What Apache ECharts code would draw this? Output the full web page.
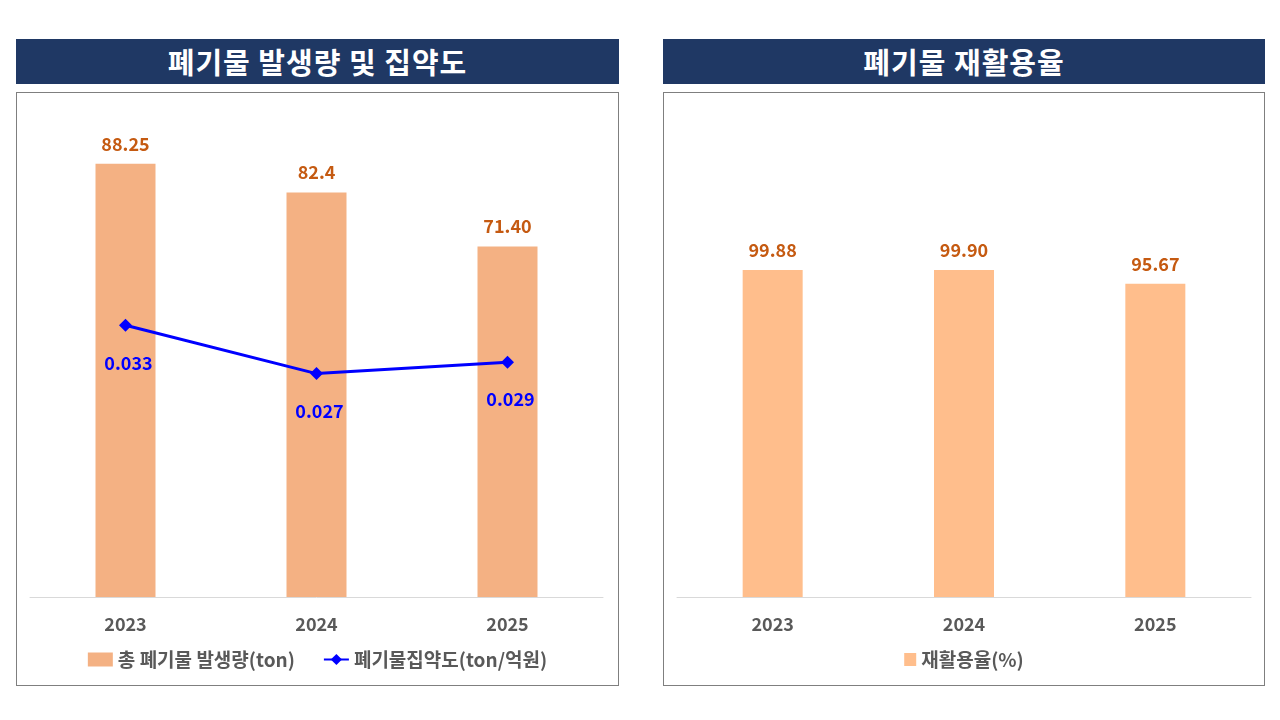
<!DOCTYPE html>
<html>
<head>
<meta charset="utf-8">
<script src="https://cdn.jsdelivr.net/npm/echarts@6/dist/echarts.min.js"></script>
<style>
  body { margin: 0; width: 1280px; height: 720px; background: #fff; position: relative; font-family: "Noto Sans CJK KR", sans-serif; }
  .head { position: absolute; top: 39px; height: 45px; background: #1F3864; color: #fff; font-weight: bold; font-size: 29px; line-height: 45px; text-align: center; letter-spacing: 1px; }
  .box { position: absolute; top: 92px; height: 592px; border: 1px solid #7f7f7f; }
</style>
</head>
<body>
<div class="head" style="left:16px;width:603px;">폐기물 발생량 및 집약도</div>
<div class="head" style="left:663px;width:602px;">폐기물 재활용율</div>
<div class="box" id="c1" style="left:16px;width:601px;"></div>
<div class="box" id="c2" style="left:663px;width:600px;"></div>
<script>
// 데이터
var years = ['2023', '2024', '2025'];
var wasteTotal = [88.25, 82.4, 71.40];
var wasteLabels = ['88.25', '82.4', '71.40'];
var wasteIntensity = [0.0332, 0.0273, 0.0287];
var recycleRate = [99.88, 99.90, 95.67];

var font = 'Noto Sans CJK KR';

var xAxisCommon = {
  type: 'category',
  data: years,
  axisLine: { lineStyle: { color: '#d9d9d9', width: 1 } },
  axisTick: { show: false },
  axisLabel: { color: '#595959', fontSize: 18, fontWeight: 'bold', fontFamily: font, margin: 18 }
};

var legendText = { color: '#595959', fontSize: 19, fontWeight: 'bold', fontFamily: font };

var chart1 = echarts.init(document.getElementById('c1'));
chart1.setOption({
  animation: false,
  grid: { left: 13, right: 15, top: 13, bottom: 88 },
  legend: {
    bottom: 11,
    itemGap: 28,
    textStyle: legendText,
    data: [
      { name: '총 폐기물 발생량(ton)', icon: 'rect', itemWidth: 26, itemHeight: 13 },
      { name: '폐기물집약도(ton/억원)' }
    ]
  },
  xAxis: xAxisCommon,
  yAxis: [
    { type: 'value', min: 0, max: 100, show: false },
    { type: 'value', min: 0, max: 0.06, show: false }
  ],
  series: [
    {
      name: '총 폐기물 발생량(ton)',
      type: 'bar',
      data: wasteTotal,
      barWidth: 60,
      itemStyle: { color: '#F4B183' },
      label: {
        show: true,
        position: 'top',
        distance: 11,
        color: '#C55A11',
        fontSize: 18,
        fontWeight: 'bold',
        fontFamily: font,
        formatter: function (p) { return wasteLabels[p.dataIndex]; }
      }
    },
    {
      name: '폐기물집약도(ton/억원)',
      type: 'line',
      yAxisIndex: 1,
      data: wasteIntensity,
      symbol: 'diamond',
      symbolSize: 13,
      itemStyle: { color: '#0000FF' },
      lineStyle: { color: '#0000FF', width: 3 },
      label: {
        show: true,
        position: 'bottom',
        distance: 22,
        offset: [3, 0],
        color: '#0000FF',
        fontSize: 18,
        fontWeight: 'bold',
        fontFamily: font,
        formatter: function (p) { return p.value.toFixed(3); }
      }
    }
  ]
});

var chart2 = echarts.init(document.getElementById('c2'));
chart2.setOption({
  animation: false,
  grid: { left: 13, right: 13, top: 13, bottom: 88 },
  legend: {
    bottom: 11,
    icon: 'rect',
    itemWidth: 12,
    itemHeight: 13,
    textStyle: legendText
  },
  xAxis: xAxisCommon,
  yAxis: { type: 'value', min: 0, max: 150, show: false },
  series: [
    {
      name: '재활용율(%)',
      type: 'bar',
      data: recycleRate,
      barWidth: 60,
      itemStyle: { color: '#FFBE8C' },
      label: {
        show: true,
        position: 'top',
        distance: 11,
        color: '#C55A11',
        fontSize: 18,
        fontWeight: 'bold',
        fontFamily: font,
        formatter: function (p) { return p.value.toFixed(2); }
      }
    }
  ]
});
</script>
</body>
</html>
